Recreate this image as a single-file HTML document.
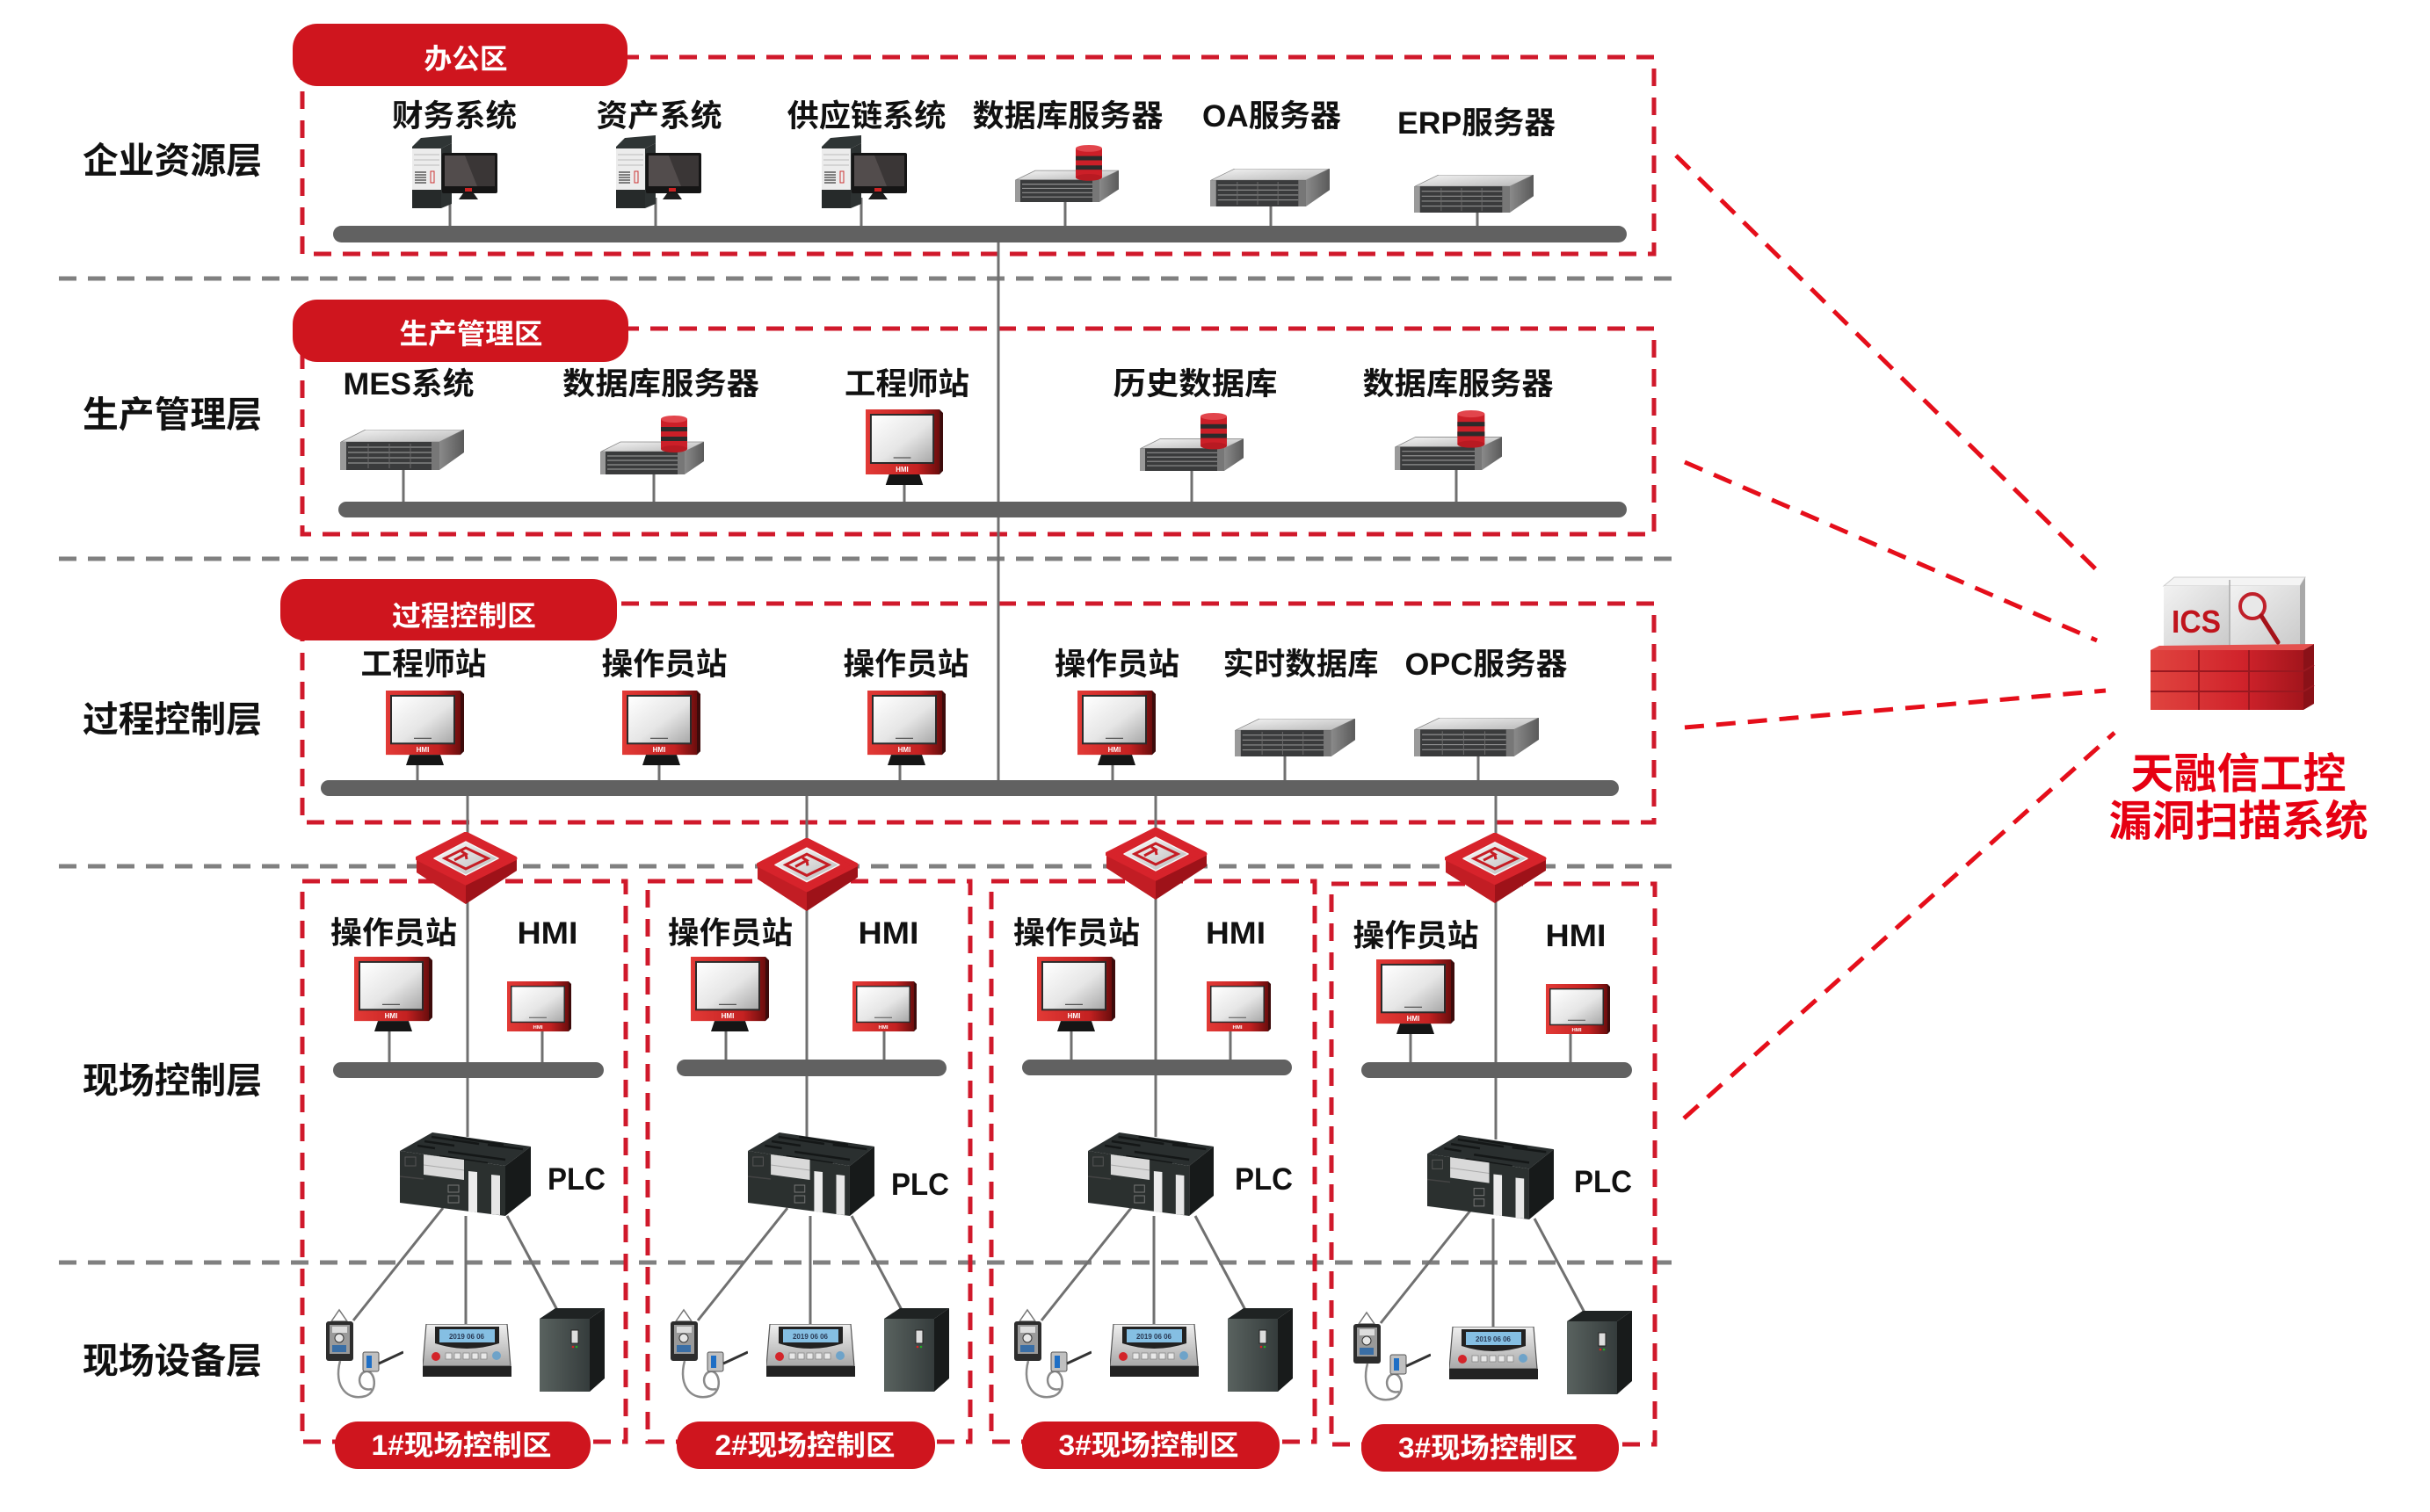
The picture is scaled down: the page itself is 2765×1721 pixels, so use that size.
<!DOCTYPE html>
<html><head><meta charset="utf-8"><style>
html,body{margin:0;padding:0;background:#fff;}
svg{display:block;}
text{font-family:"Liberation Sans","Noto Sans CJK SC",sans-serif;font-weight:700;}
.lb{font-size:35px;fill:#111;}
.ly{font-size:41px;fill:#111;}
.pw{font-size:32px;fill:#fff;}
.sep{stroke:#808080;stroke-width:5;stroke-dasharray:20 13;fill:none;}
.rb{stroke:#d0192b;stroke-width:5;stroke-dasharray:20 13;fill:none;}
.dg{stroke:#e50e1a;stroke-width:5;stroke-dasharray:22 14;fill:none;}
.st{stroke:#707070;stroke-width:3;}
.bus{fill:#616161;}
.pill{fill:#cf151e;}
</style></head><body>
<svg width="2765" height="1721" viewBox="0 0 2765 1721" xmlns="http://www.w3.org/2000/svg">
<defs>
<linearGradient id="gTop" x1="0" y1="0" x2="1" y2="1"><stop offset="0" stop-color="#f4f4f4"/><stop offset="1" stop-color="#b8b8b8"/></linearGradient>
<linearGradient id="gSide" x1="0" y1="0" x2="1" y2="0"><stop offset="0" stop-color="#8a8a8a"/><stop offset="1" stop-color="#5a5a5a"/></linearGradient>
<linearGradient id="gScr" x1="0" y1="0" x2="1" y2="1"><stop offset="0" stop-color="#ffffff"/><stop offset=".55" stop-color="#e6e6e6"/><stop offset="1" stop-color="#a9a9a9"/></linearGradient>
<linearGradient id="gRed" x1="0" y1="0" x2="1" y2="0"><stop offset="0" stop-color="#e23a36"/><stop offset=".7" stop-color="#c42121"/><stop offset="1" stop-color="#6b0d0d"/></linearGradient>
<linearGradient id="gFw" x1="0" y1="0" x2="1" y2="1"><stop offset="0" stop-color="#ffffff"/><stop offset="1" stop-color="#b5b5b5"/></linearGradient>
<linearGradient id="gSil" x1="0" y1="0" x2="0" y2="1"><stop offset="0" stop-color="#f0f0f0"/><stop offset="1" stop-color="#a8a8a8"/></linearGradient>
<linearGradient id="gCab" x1="0" y1="0" x2="1" y2="0"><stop offset="0" stop-color="#59625f"/><stop offset="1" stop-color="#353c3c"/></linearGradient>
<linearGradient id="gBox" x1="0" y1="0" x2="1" y2="1"><stop offset="0" stop-color="#f2f2f2"/><stop offset="1" stop-color="#c9c9c9"/></linearGradient>
<linearGradient id="gBrick" x1="0" y1="0" x2="1" y2="0"><stop offset="0" stop-color="#e0443f"/><stop offset=".6" stop-color="#d0232b"/><stop offset="1" stop-color="#a3151c"/></linearGradient>

<symbol id="pc" viewBox="0 0 97 83" preserveAspectRatio="none">
 <polygon points="0,13 10,3 45,0 45,9 33,15 0,15" fill="#2f3535"/>
 <rect x="0" y="15" width="33" height="47" fill="#ececec"/>
 <polygon points="33,15 45,9 45,78 33,83" fill="#2c3131"/>
 <rect x="0" y="62" width="33" height="21" fill="#262a2a"/>
 <g stroke="#bdbdbd" stroke-width="1"><line x1="2" y1="22" x2="31" y2="22"/><line x1="2" y1="28" x2="31" y2="28"/><line x1="2" y1="34" x2="31" y2="34"/></g>
 <g stroke="#444" stroke-width="1.3"><line x1="3" y1="42" x2="16" y2="42"/><line x1="3" y1="45" x2="16" y2="45"/><line x1="3" y1="48" x2="16" y2="48"/><line x1="3" y1="51" x2="16" y2="51"/><line x1="3" y1="54" x2="16" y2="54"/></g>
 <rect x="21" y="41" width="4" height="13" fill="none" stroke="#c33" stroke-width="1"/>
 <rect x="34" y="20" width="63" height="46" rx="2" fill="#151515"/>
 <rect x="37" y="23" width="57" height="35" fill="#524c4c"/>
 <polygon points="60,23 94,23 94,58 74,58" fill="#3a3636"/>
 <rect x="60" y="60" width="8" height="4" fill="#c22"/>
 <polygon points="58,66 70,66 75,73 53,73" fill="#1e1e1e"/>
</symbol>

<symbol id="srv" viewBox="0 0 141 46" preserveAspectRatio="none">
 <polygon points="1,14 29,0 141,0 113,14" fill="url(#gTop)" stroke="#888" stroke-width=".8"/>
 <rect x="0" y="14" width="113" height="32" fill="#3a3b3c"/>
 <rect x="0" y="14" width="7" height="32" fill="#9a9a9a"/>
 <g stroke="#8f8f8f" stroke-width="1.2"><line x1="9" y1="20" x2="104" y2="20"/><line x1="9" y1="26" x2="104" y2="26"/><line x1="9" y1="32" x2="104" y2="32"/><line x1="9" y1="38" x2="104" y2="38"/></g>
 <g stroke="#6a6a6a" stroke-width="1"><line x1="32" y1="16" x2="32" y2="44"/><line x1="56" y1="16" x2="56" y2="44"/><line x1="80" y1="16" x2="80" y2="44"/></g>
 <rect x="104" y="14" width="9" height="32" fill="#777"/>
 <polygon points="113,14 141,0 141,26 113,46" fill="url(#gSide)"/>
</symbol>

<symbol id="db" viewBox="0 0 118 67" preserveAspectRatio="none">
 <polygon points="1,41 23,30 118,30 96,41" fill="url(#gTop)" stroke="#888" stroke-width=".8"/>
 <rect x="0" y="41" width="96" height="26" fill="#3a3b3c"/>
 <rect x="0" y="41" width="6" height="26" fill="#9a9a9a"/>
 <g stroke="#8f8f8f" stroke-width="1.2"><line x1="8" y1="46" x2="88" y2="46"/><line x1="8" y1="51" x2="88" y2="51"/><line x1="8" y1="56" x2="88" y2="56"/><line x1="8" y1="61" x2="88" y2="61"/></g>
 <rect x="88" y="41" width="8" height="26" fill="#777"/>
 <polygon points="96,41 118,30 118,52 96,67" fill="url(#gSide)"/>
 <rect x="69" y="4" width="30" height="34" fill="#cc1f28"/>
 <ellipse cx="84" cy="38" rx="15" ry="4" fill="#b81a22"/>
 <rect x="69" y="13" width="30" height="5" fill="#2b2b2b"/>
 <rect x="69" y="24" width="30" height="5" fill="#2b2b2b"/>
 <ellipse cx="84" cy="4" rx="15" ry="4" fill="#e2454c"/>
</symbol>

<symbol id="hmi" viewBox="0 0 89 86" preserveAspectRatio="none">
 <rect x="0" y="0" width="85" height="74" fill="url(#gRed)"/>
 <polygon points="85,0 89,4 89,70 85,74" fill="#3d0b0b"/>
 <rect x="5" y="5" width="74" height="57" fill="#2a2a2a"/>
 <rect x="7" y="7" width="70" height="53" fill="url(#gScr)"/>
 <line x1="32" y1="55" x2="52" y2="55" stroke="#555" stroke-width="1.2"/>
 <text x="42" y="71" font-size="8" fill="#fff" text-anchor="middle">HMI</text>
 <polygon points="27,74 62,74 66,86 23,86" fill="#151515"/>
</symbol>

<symbol id="hmis" viewBox="0 0 73 58" preserveAspectRatio="none">
 <rect x="0" y="0" width="70" height="58" fill="url(#gRed)"/>
 <polygon points="70,0 73,3 73,55 70,58" fill="#3d0b0b"/>
 <rect x="4" y="5" width="62" height="43" fill="#2a2a2a"/>
 <rect x="5.5" y="6.5" width="59" height="40" fill="url(#gScr)"/>
 <line x1="25" y1="42" x2="45" y2="42" stroke="#555" stroke-width="1"/>
 <text x="35" y="55" font-size="6" fill="#fff" text-anchor="middle">HMI</text>
</symbol>

<symbol id="fw" viewBox="0 0 116 82" preserveAspectRatio="none">
 <polygon points="1,31 1,46 57,82 115,44 115,30 57,60" fill="#9e1219"/>
 <polygon points="1,31 57,60 57,82 1,46" fill="#c21d24"/>
 <polygon points="2,30 57,2 113,30 57,58" fill="#d7232b" stroke="#d7232b" stroke-width="5" stroke-linejoin="round"/>
 <polygon points="21,30 57,11 94,30 57,49" fill="url(#gFw)" stroke="#f6f6f6" stroke-width="1.5" stroke-linejoin="round"/>
 <polygon points="33,30 57,18 82,30 57,42" fill="none" stroke="#c61d24" stroke-width="3"/>
 <path d="M44,32 L57,25 L52,22 M57,25 L58,31" fill="none" stroke="#c61d24" stroke-width="3"/>
</symbol>

<symbol id="plc" viewBox="0 0 149 95" preserveAspectRatio="none">
 <polygon points="0,21 37,0 149,16 120,38" fill="#2a2f2f"/>
 <g stroke="#141717" stroke-width="2.5"><line x1="20" y1="15" x2="40" y2="18"/><line x1="28" y1="10" x2="62" y2="15"/><line x1="36" y1="5" x2="90" y2="13"/><line x1="60" y1="5" x2="118" y2="14"/><line x1="55" y1="22" x2="120" y2="31"/><line x1="45" y1="27" x2="100" y2="35"/><line x1="100" y1="14" x2="140" y2="19"/></g>
 <polygon points="0,21 120,38 120,95 0,80" fill="#2b302f"/>
 <polygon points="120,38 149,16 149,72 120,95" fill="#171a1a"/>
 <polygon points="27,25 73,31 73,54 27,48" fill="#d9d9d9"/>
 <line x1="27" y1="37" x2="73" y2="43" stroke="#aaa" stroke-width="1"/>
 <line x1="0" y1="50" x2="27" y2="53" stroke="#444" stroke-width="1.5"/>
 <rect x="6" y="28" width="12" height="10" fill="none" stroke="#555" stroke-width="1"/>
 <rect x="55" y="60" width="12" height="8" fill="none" stroke="#777" stroke-width="1"/>
 <rect x="55" y="72" width="12" height="8" fill="none" stroke="#777" stroke-width="1"/>
 <polygon points="78,44 88,45 88,91 78,90" fill="#ececec"/>
 <polygon points="104,48 114,49 114,94 104,93" fill="#e6e6e6"/>
</symbol>

<symbol id="sen" viewBox="0 0 88 104" preserveAspectRatio="none">
 <polygon points="6,15 15,2 24,15" fill="none" stroke="#777" stroke-width="1.5"/>
 <rect x="0" y="15" width="31" height="45" rx="3" fill="#2d2d2d"/>
 <rect x="4" y="19" width="23" height="33" fill="#9a9a9a"/>
 <rect x="7" y="21" width="17" height="7" fill="#ddd"/>
 <circle cx="15" cy="34" r="5" fill="#e6e6e6" stroke="#333"/>
 <rect x="7" y="42" width="16" height="8" fill="#3a6ea5"/>
 <path d="M16,60 C8,90 25,106 45,100 C60,95 56,70 45,72 C34,75 36,96 52,92" fill="none" stroke="#8a8a8a" stroke-width="2.5"/>
 <rect x="42" y="50" width="18" height="22" rx="2" fill="#c0c0c0" stroke="#555"/>
 <rect x="46" y="54" width="6" height="14" fill="#1f6fc5"/>
 <line x1="60" y1="63" x2="88" y2="50" stroke="#333" stroke-width="3"/>
</symbol>

<symbol id="pan" viewBox="0 0 101 60" preserveAspectRatio="none">
 <polygon points="4,0 96,0 100,48 0,48" fill="url(#gSil)" stroke="#555" stroke-width="1.2"/>
 <path d="M14,3 L87,3 L87,22 Q50,34 14,22 Z" fill="#222"/>
 <rect x="19" y="6" width="63" height="15" fill="#85bfe3"/>
 <text x="50" y="17" font-size="8" fill="#2a3a55" text-anchor="middle" font-weight="400">2019 06 06</text>
 <circle cx="15" cy="37" r="5" fill="#d3242a"/>
 <circle cx="84" cy="36" r="5" fill="#6ea3c9"/>
 <g fill="#e8e8e8" stroke="#888" stroke-width=".8"><rect x="26" y="33" width="7" height="7"/><rect x="36" y="33" width="7" height="7"/><rect x="46" y="33" width="7" height="7"/><rect x="56" y="33" width="7" height="7"/><rect x="66" y="33" width="7" height="7"/></g>
 <rect x="0" y="48" width="101" height="12" fill="#222"/>
</symbol>

<symbol id="cab" viewBox="0 0 74 95" preserveAspectRatio="none">
 <polygon points="0,12 18,0 74,0 57,12" fill="#1f2323"/>
 <rect x="0" y="12" width="57" height="83" fill="url(#gCab)"/>
 <polygon points="57,12 74,0 74,80 57,95" fill="#181b1b"/>
 <rect x="36" y="25" width="8" height="15" fill="#ddd" stroke="#222"/>
 <circle cx="38" cy="44" r="1.3" fill="#d22"/><circle cx="42" cy="44" r="1.3" fill="#2a2"/>
</symbol>
</defs>

<!-- gray layer separators -->
<line class="sep" x1="67" y1="317" x2="1906" y2="317"/>
<line class="sep" x1="67" y1="636" x2="1906" y2="636"/>
<line class="sep" x1="67" y1="986" x2="1906" y2="986"/>
<line class="sep" x1="67" y1="1437" x2="1906" y2="1437"/>

<!-- red zone boxes -->
<rect class="rb" x="344" y="65" width="1538" height="224"/>
<rect class="rb" x="344" y="374" width="1538" height="234"/>
<rect class="rb" x="344" y="687" width="1538" height="249"/>
<rect class="rb" x="344" y="1003" width="368" height="638"/>
<rect class="rb" x="737" y="1003" width="367" height="638"/>
<rect class="rb" x="1128" y="1003" width="368" height="638"/>
<rect class="rb" x="1515" y="1006" width="368" height="638"/>

<!-- diagonal links to ICS -->
<line class="dg" x1="1907" y1="177" x2="2394" y2="657"/>
<line class="dg" x1="1917" y1="526" x2="2386" y2="729"/>
<line class="dg" x1="1917" y1="828" x2="2396" y2="786"/>
<line class="dg" x1="1916" y1="1273" x2="2406" y2="834"/>

<!-- main vertical backbone -->
<line class="st" x1="1136" y1="276" x2="1136" y2="888"/>

<!-- stems row 1 -->
<g class="st">
<line x1="512" y1="225" x2="512" y2="257"/>
<line x1="746" y1="225" x2="746" y2="257"/>
<line x1="980" y1="225" x2="980" y2="257"/>
<line x1="1212" y1="225" x2="1212" y2="257"/>
<line x1="1446" y1="230" x2="1446" y2="257"/>
<line x1="1681" y1="238" x2="1681" y2="257"/>
<!-- row 2 -->
<line x1="459" y1="530" x2="459" y2="571"/>
<line x1="744" y1="535" x2="744" y2="571"/>
<line x1="1029" y1="548" x2="1029" y2="571"/>
<line x1="1356" y1="532" x2="1356" y2="571"/>
<line x1="1657" y1="530" x2="1657" y2="571"/>
<!-- row 3 -->
<line x1="475" y1="866" x2="475" y2="888"/>
<line x1="750" y1="866" x2="750" y2="888"/>
<line x1="1024" y1="866" x2="1024" y2="888"/>
<line x1="1266" y1="866" x2="1266" y2="888"/>
<line x1="1462" y1="858" x2="1462" y2="888"/>
<line x1="1682" y1="858" x2="1682" y2="888"/>
<!-- firewall verticals -->
<line x1="532" y1="906" x2="532" y2="1294"/>
<line x1="918" y1="906" x2="918" y2="1294"/>
<line x1="1315" y1="906" x2="1315" y2="1294"/>
<line x1="1702" y1="906" x2="1702" y2="1297"/>
<!-- field monitors stems -->
<line x1="443" y1="1172" x2="443" y2="1209"/><line x1="617" y1="1172" x2="617" y2="1209"/>
<line x1="826" y1="1172" x2="826" y2="1206"/><line x1="1006" y1="1172" x2="1006" y2="1206"/>
<line x1="1219" y1="1172" x2="1219" y2="1206"/><line x1="1400" y1="1172" x2="1400" y2="1206"/>
<line x1="1605" y1="1175" x2="1605" y2="1209"/><line x1="1787" y1="1175" x2="1787" y2="1209"/>
<!-- PLC to devices -->
<line x1="504" y1="1375" x2="402" y2="1503"/><line x1="530" y1="1384" x2="530" y2="1507"/><line x1="577" y1="1384" x2="634" y2="1491"/>
<line x1="896" y1="1375" x2="794" y2="1503"/><line x1="922" y1="1384" x2="922" y2="1507"/><line x1="969" y1="1384" x2="1026" y2="1491"/>
<line x1="1287" y1="1375" x2="1185" y2="1503"/><line x1="1313" y1="1384" x2="1313" y2="1507"/><line x1="1360" y1="1384" x2="1417" y2="1491"/>
<line x1="1673" y1="1378" x2="1571" y2="1506"/><line x1="1699" y1="1387" x2="1699" y2="1510"/><line x1="1746" y1="1387" x2="1803" y2="1494"/>
</g>

<!-- buses -->
<rect class="bus" x="379" y="257" width="1472" height="19" rx="9.5"/>
<rect class="bus" x="385" y="571" width="1466" height="18" rx="9"/>
<rect class="bus" x="365" y="888" width="1477" height="18" rx="9"/>
<rect class="bus" x="379" y="1209" width="308" height="18" rx="9"/>
<rect class="bus" x="770" y="1206" width="307" height="19" rx="9.5"/>
<rect class="bus" x="1163" y="1206" width="307" height="18" rx="9"/>
<rect class="bus" x="1549" y="1209" width="308" height="18" rx="9"/>

<!-- row 1 icons -->
<use href="#pc" x="469" y="154" width="97" height="83"/>
<use href="#pc" x="701" y="154" width="97" height="83"/>
<use href="#pc" x="935" y="154" width="97" height="83"/>
<use href="#db" x="1155" y="165" width="118" height="65"/>
<use href="#srv" x="1377" y="192" width="136" height="43"/>
<use href="#srv" x="1609" y="199" width="136" height="43"/>

<!-- row 2 icons -->
<use href="#srv" x="387" y="489" width="141" height="46"/>
<use href="#db" x="683" y="473" width="118" height="67"/>
<use href="#hmi" x="985" y="466" width="88" height="86"/>
<use href="#db" x="1297" y="470" width="118" height="66"/>
<use href="#db" x="1587" y="467" width="122" height="68"/>

<!-- row 3 icons -->
<use href="#hmi" x="439" y="786" width="89" height="85"/>
<use href="#hmi" x="708" y="786" width="89" height="85"/>
<use href="#hmi" x="987" y="786" width="89" height="85"/>
<use href="#hmi" x="1226" y="786" width="89" height="85"/>
<use href="#srv" x="1405" y="818" width="137" height="43"/>
<use href="#srv" x="1609" y="817" width="142" height="44"/>

<!-- firewalls -->
<use href="#fw" x="473" y="947" width="116" height="82"/>
<use href="#fw" x="861" y="954" width="116" height="83"/>
<use href="#fw" x="1258" y="942" width="116" height="82"/>
<use href="#fw" x="1644" y="948" width="116" height="80"/>

<!-- field monitors -->
<use href="#hmi" x="403" y="1089" width="89" height="85"/>
<use href="#hmis" x="577" y="1117" width="73" height="57"/>
<use href="#hmi" x="786" y="1089" width="89" height="85"/>
<use href="#hmis" x="970" y="1117" width="73" height="57"/>
<use href="#hmi" x="1180" y="1089" width="89" height="85"/>
<use href="#hmis" x="1373" y="1117" width="73" height="57"/>
<use href="#hmi" x="1566" y="1092" width="89" height="85"/>
<use href="#hmis" x="1759" y="1120" width="73" height="57"/>

<!-- PLCs -->
<use href="#plc" x="455" y="1289" width="149" height="95"/>
<use href="#plc" x="851" y="1289" width="144" height="95"/>
<use href="#plc" x="1238" y="1289" width="143" height="95"/>
<use href="#plc" x="1624" y="1292" width="144" height="96"/>

<!-- field devices -->
<use href="#sen" x="371" y="1489" width="88" height="104"/>
<use href="#pan" x="481" y="1507" width="101" height="60"/>
<use href="#cab" x="614" y="1489" width="74" height="95"/>
<use href="#sen" x="763" y="1489" width="88" height="104"/>
<use href="#pan" x="872" y="1507" width="101" height="60"/>
<use href="#cab" x="1006" y="1489" width="74" height="95"/>
<use href="#sen" x="1154" y="1489" width="88" height="104"/>
<use href="#pan" x="1263" y="1507" width="101" height="60"/>
<use href="#cab" x="1397" y="1489" width="74" height="95"/>
<use href="#sen" x="1540" y="1492" width="88" height="104"/>
<use href="#pan" x="1649" y="1510" width="101" height="60"/>
<use href="#cab" x="1783" y="1492" width="74" height="95"/>

<!-- pills -->
<rect class="pill" x="333" y="27" width="381" height="71" rx="28"/>
<rect class="pill" x="333" y="341" width="382" height="71" rx="28"/>
<rect class="pill" x="319" y="659" width="383" height="70" rx="28"/>
<rect class="pill" x="381" y="1618" width="291" height="54" rx="26"/>
<rect class="pill" x="770" y="1618" width="294" height="54" rx="26"/>
<rect class="pill" x="1163" y="1618" width="293" height="54" rx="26"/>
<rect class="pill" x="1549" y="1621" width="293" height="54" rx="26"/>
<text class="pw" x="530" y="78" text-anchor="middle" textLength="95" lengthAdjust="spacingAndGlyphs">办公区</text>
<text class="pw" x="536" y="391" text-anchor="middle" textLength="163" lengthAdjust="spacingAndGlyphs">生产管理区</text>
<text class="pw" x="528" y="712" text-anchor="middle" textLength="164" lengthAdjust="spacingAndGlyphs">过程控制区</text>
<text class="pw" x="525" y="1656" text-anchor="middle" textLength="205" lengthAdjust="spacingAndGlyphs">1#现场控制区</text>
<text class="pw" x="916" y="1656" text-anchor="middle" textLength="205" lengthAdjust="spacingAndGlyphs">2#现场控制区</text>
<text class="pw" x="1307" y="1656" text-anchor="middle" textLength="205" lengthAdjust="spacingAndGlyphs">3#现场控制区</text>
<text class="pw" x="1693" y="1659" text-anchor="middle" textLength="204" lengthAdjust="spacingAndGlyphs">3#现场控制区</text>

<!-- layer labels -->
<g class="ly" text-anchor="middle">
<text x="196" y="197" textLength="204" lengthAdjust="spacingAndGlyphs">企业资源层</text>
<text x="196" y="486" textLength="204" lengthAdjust="spacingAndGlyphs">生产管理层</text>
<text x="196" y="833" textLength="204" lengthAdjust="spacingAndGlyphs">过程控制层</text>
<text x="196" y="1244" textLength="204" lengthAdjust="spacingAndGlyphs">现场控制层</text>
<text x="196" y="1563" textLength="204" lengthAdjust="spacingAndGlyphs">现场设备层</text>
</g>

<!-- node labels -->
<g class="lb" text-anchor="middle">
<text x="517" y="144" textLength="142" lengthAdjust="spacingAndGlyphs">财务系统</text>
<text x="750" y="144" textLength="143" lengthAdjust="spacingAndGlyphs">资产系统</text>
<text x="986" y="144" textLength="181" lengthAdjust="spacingAndGlyphs">供应链系统</text>
<text x="1215" y="144" textLength="217" lengthAdjust="spacingAndGlyphs">数据库服务器</text>
<text x="1447" y="144" textLength="158" lengthAdjust="spacingAndGlyphs">OA服务器</text>
<text x="1680" y="152" textLength="180" lengthAdjust="spacingAndGlyphs">ERP服务器</text>

<text x="465" y="449" textLength="149" lengthAdjust="spacingAndGlyphs">MES系统</text>
<text x="752" y="449" textLength="224" lengthAdjust="spacingAndGlyphs">数据库服务器</text>
<text x="1032" y="449" textLength="142" lengthAdjust="spacingAndGlyphs">工程师站</text>
<text x="1360" y="449" textLength="187" lengthAdjust="spacingAndGlyphs">历史数据库</text>
<text x="1659" y="449" textLength="217" lengthAdjust="spacingAndGlyphs">数据库服务器</text>

<text x="482" y="768" textLength="143" lengthAdjust="spacingAndGlyphs">工程师站</text>
<text x="756" y="768" textLength="143" lengthAdjust="spacingAndGlyphs">操作员站</text>
<text x="1031" y="768" textLength="143" lengthAdjust="spacingAndGlyphs">操作员站</text>
<text x="1271" y="768" textLength="142" lengthAdjust="spacingAndGlyphs">操作员站</text>
<text x="1480" y="768" textLength="177" lengthAdjust="spacingAndGlyphs">实时数据库</text>
<text x="1691" y="768" textLength="185" lengthAdjust="spacingAndGlyphs">OPC服务器</text>

<text x="448" y="1074" textLength="144" lengthAdjust="spacingAndGlyphs">操作员站</text>
<text x="623" y="1074" textLength="69" lengthAdjust="spacingAndGlyphs">HMI</text>
<text x="831" y="1074" textLength="142" lengthAdjust="spacingAndGlyphs">操作员站</text>
<text x="1011" y="1074" textLength="69" lengthAdjust="spacingAndGlyphs">HMI</text>
<text x="1225" y="1074" textLength="144" lengthAdjust="spacingAndGlyphs">操作员站</text>
<text x="1406" y="1074" textLength="68" lengthAdjust="spacingAndGlyphs">HMI</text>
<text x="1611" y="1077" textLength="143" lengthAdjust="spacingAndGlyphs">操作员站</text>
<text x="1793" y="1077" textLength="69" lengthAdjust="spacingAndGlyphs">HMI</text>

<text x="656" y="1354" textLength="66" lengthAdjust="spacingAndGlyphs">PLC</text>
<text x="1047" y="1360" textLength="66" lengthAdjust="spacingAndGlyphs">PLC</text>
<text x="1438" y="1354" textLength="66" lengthAdjust="spacingAndGlyphs">PLC</text>
<text x="1824" y="1357" textLength="66" lengthAdjust="spacingAndGlyphs">PLC</text>
</g>

<!-- ICS scanner icon -->
<polygon points="2462,667 2474,657 2623,657 2617,667" fill="#f4f4f4" stroke="#ccc" stroke-width="1"/>
<rect x="2462" y="667" width="75" height="73" fill="url(#gBox)"/>
<rect x="2537" y="667" width="80" height="73" fill="url(#gBox)"/>
<line x1="2537" y1="660" x2="2537" y2="740" stroke="#aaa" stroke-width="1.5"/>
<polygon points="2617,667 2623,657 2623,735 2617,740" fill="#a8a8a8"/>
<text x="2499" y="720" font-size="36" fill="#c0141c" text-anchor="middle" textLength="56" lengthAdjust="spacingAndGlyphs">ICS</text>
<circle cx="2563" cy="690" r="14" fill="#e8e8e8" stroke="#c0202a" stroke-width="4"/>
<line x1="2573" y1="701" x2="2592" y2="731" stroke="#a51219" stroke-width="5" stroke-linecap="round"/>
<polygon points="2447,740 2457,735 2633,733 2621,740" fill="#e4514f"/>
<rect x="2447" y="740" width="174" height="68" fill="url(#gBrick)"/>
<polygon points="2621,740 2633,733 2633,801 2621,808" fill="#8a1118"/>
<g stroke="#9a1820" stroke-width="2">
<line x1="2447" y1="764" x2="2621" y2="764"/><line x1="2447" y1="787" x2="2621" y2="787"/>
<line x1="2502" y1="740" x2="2502" y2="808"/><line x1="2559" y1="740" x2="2559" y2="808"/>
<line x1="2621" y1="764" x2="2633" y2="757"/><line x1="2621" y1="787" x2="2633" y2="780"/>
</g>
<text x="2547" y="897" font-size="48" fill="#e60012" text-anchor="middle" textLength="245" lengthAdjust="spacingAndGlyphs">天融信工控</text>
<text x="2547" y="951" font-size="48" fill="#e60012" text-anchor="middle" textLength="295" lengthAdjust="spacingAndGlyphs">漏洞扫描系统</text>
</svg>
</body></html>
